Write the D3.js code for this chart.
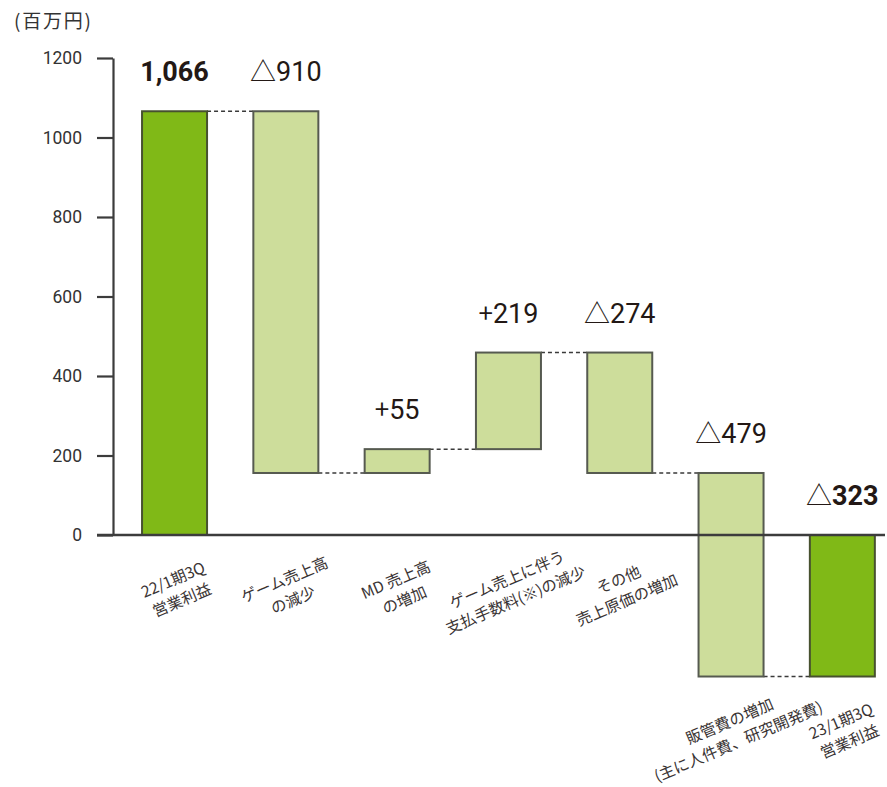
<!DOCTYPE html>
<html><head><meta charset="utf-8">
<script src="https://cdn.jsdelivr.net/npm/d3@7"></script>
<style>
html,body{margin:0;padding:0;background:#fff;}
svg{display:block;}
</style></head>
<body>
<svg id="chart" width="887" height="787"></svg>
<script>
// ---- data ----
const categories = [
  ["22/1期3Q", "営業利益"],
  ["ゲーム売上高", "の減少"],
  ["MD 売上高", "の増加"],
  ["ゲーム売上に伴う", "支払手数料(※)の減少"],
  ["その他", "売上原価の増加"],
  ["販管費の増加", "(主に人件費、研究開発費)"],
  ["23/1期3Q", "営業利益"]
];
const barStart = [0, 1066, 156, 216, 459, 156, 0];
const barEnd   = [1066, 156, 216, 459, 156, -356, -356];
const labelPrefix = ["", "△", "+", "+", "△", "△", "△"];
const labelNumber = ["1,066", "910", "55", "219", "274", "479", "323"];
const isTotal = [true, false, false, false, false, false, true];
const yTicks = [0, 200, 400, 600, 800, 1000, 1200];
const unitLabel = "(百万円)";

// ---- drawing ----
const svg = d3.select("#chart");
const ink = "#231815";
const numFont = "Roboto, 'Noto Sans CJK JP', sans-serif";
const jpFont = "'Noto Sans CJK JP', 'Noto Sans', sans-serif";

const x = d3.scaleBand()
  .domain(d3.range(categories.length))
  .range([118.9, 898])
  .paddingInner(0.416)
  .paddingOuter(0.208);
const y = d3.scaleLinear().domain([0, 1200]).range([535, 58]);

// unit
svg.append("text")
  .attr("x", 14).attr("y", 28)
  .attr("font-family", jpFont).attr("font-size", 19)
  .attr("letter-spacing", 1.8)
  .attr("fill", "#333").text(unitLabel);

// y axis
const axisX = 113;
const gAxis = svg.append("g").attr("transform", `translate(${axisX},0)`)
  .call(d3.axisLeft(y).tickValues(yTicks).tickSize(16).tickSizeOuter(0).tickPadding(15).tickFormat(d3.format("d")));
gAxis.select(".domain").attr("stroke", "#3c3c3c").attr("stroke-width", 2.2);
gAxis.selectAll(".tick line").attr("stroke", "#3c3c3c").attr("stroke-width", 2.2);
gAxis.selectAll(".tick text")
  .attr("font-family", numFont).attr("font-size", 17.5).attr("fill", "#333");

const data = categories.map((c, i) => ({
  i, lines: c, s: barStart[i], e: barEnd[i],
  pre: labelPrefix[i], num: labelNumber[i], total: isTotal[i]
}));

// connectors
const conn = svg.append("g");
data.slice(0, -1).forEach(d => {
  conn.append("line")
    .attr("x1", x(d.i) + x.bandwidth())
    .attr("x2", x(d.i + 1))
    .attr("y1", y(d.e)).attr("y2", y(d.e))
    .attr("stroke", "#3a3a3a").attr("stroke-width", 1.5)
    .attr("stroke-dasharray", "4,3");
});

// bars
svg.append("g").selectAll("rect").data(data).join("rect")
  .attr("x", d => x(d.i))
  .attr("width", x.bandwidth())
  .attr("y", d => y(Math.max(d.s, d.e)))
  .attr("height", d => Math.abs(y(d.s) - y(d.e)))
  .attr("fill", d => d.total ? "#80b917" : "#cddd9b")
  .attr("stroke", d => d.total ? "#47512f" : "#565a50")
  .attr("stroke-width", 2);

// baseline (zero)
svg.append("line")
  .attr("x1", axisX - 16).attr("x2", 885)
  .attr("y1", y(0)).attr("y2", y(0))
  .attr("stroke", "#3c3c3c").attr("stroke-width", 2.6);

// value labels
const vl = svg.append("g").selectAll("text").data(data).join("text")
  .attr("x", d => x(d.i) + x.bandwidth() / 2)
  .attr("y", d => y(Math.max(d.s, d.e, 0)) - 30)
  .attr("text-anchor", "middle")
  .attr("fill", ink);
vl.append("tspan")
  .attr("font-family", jpFont).attr("font-size", 26)
  .text(d => d.pre);
vl.append("tspan")
  .attr("font-family", numFont).attr("font-size", 27)
  .attr("font-weight", d => d.total ? 700 : 400)
  .text(d => d.num);

// category labels (rotated)
const cl = svg.append("g").selectAll("g").data(data).join("g")
  .attr("transform", d => {
    const cx = x(d.i) + x.bandwidth() / 2 + 3;
    const cy = Math.max(y(0), y(Math.min(d.s, d.e))) + 55;
    return `translate(${cx},${cy}) rotate(-23)`;
  });
cl.each(function (d) {
  const g = d3.select(this);
  d.lines.forEach((t, k) => {
    g.append("text")
      .attr("x", 0)
      .attr("y", (k - (d.lines.length - 1) / 2) * 22)
      .attr("dy", "0.35em")
      .attr("text-anchor", "middle")
      .attr("font-family", jpFont).attr("font-size", 15.5)
      .attr("fill", "#3a3434")
      .text(t);
  });
});
</script>
</body></html>
